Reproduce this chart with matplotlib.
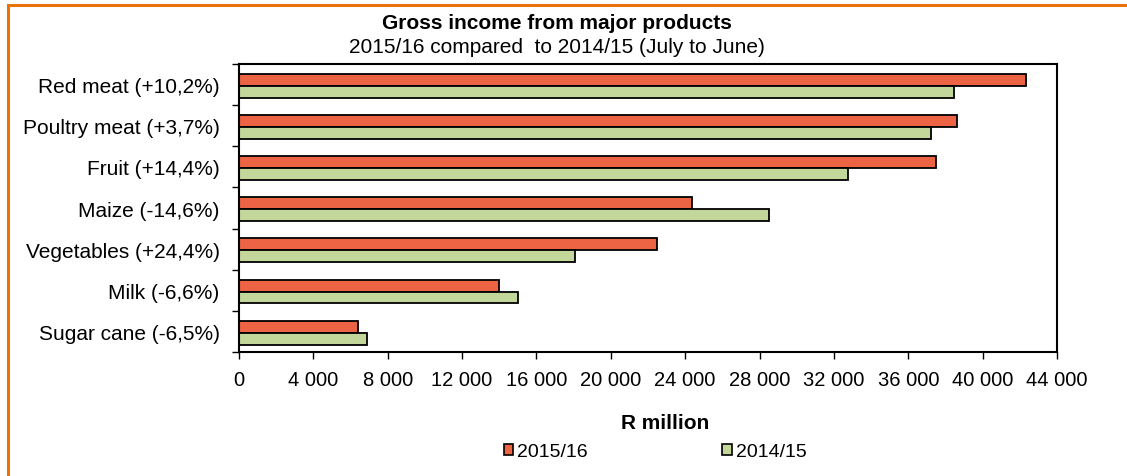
import matplotlib

matplotlib.use("Agg")
import matplotlib.pyplot as plt
import numpy as np
from matplotlib.lines import Line2D
from matplotlib.patches import Patch
from matplotlib.ticker import FixedLocator, FuncFormatter, MultipleLocator

plt.rcParams["font.family"] = ["Liberation Sans", "DejaVu Sans"]

categories = [
    "Red meat (+10,2%)",
    "Poultry meat (+3,7%)",
    "Fruit (+14,4%)",
    "Maize (-14,6%)",
    "Vegetables (+24,4%)",
    "Milk (-6,6%)",
    "Sugar cane (-6,5%)",
]
income_2015_16 = [42350, 38630, 37470, 24370, 22490, 13990, 6420]
income_2014_15 = [38450, 37230, 32740, 28510, 18070, 14990, 6880]

RED = "#EC6443"
GREEN = "#C4D79B"
ORANGE = "#E8720C"

W, H = 1127, 477
fig = plt.figure(figsize=(W / 100, H / 100), dpi=100)
ax = fig.add_axes([239 / W, 1 - 353 / H, 818 / W, 288 / H])

y = np.arange(len(categories))
h = 0.29
ax.barh(y - h / 2 + 0.03, income_2015_16, height=h, color=RED, edgecolor="black", linewidth=1.3)
ax.barh(y + h / 2 + 0.03, income_2014_15, height=h, color=GREEN, edgecolor="black", linewidth=1.3)

ax.set_xlim(0, 44000)
ax.set_ylim(len(categories) - 0.5, -0.5)
ax.xaxis.set_major_locator(MultipleLocator(4000))
ax.xaxis.set_major_formatter(FuncFormatter(lambda v, _: f"{int(v):,}".replace(",", " ")))
ax.set_yticks(y)
ax.set_yticklabels(categories, fontsize=15)
ax.yaxis.set_minor_locator(FixedLocator(np.arange(-0.5, len(categories), 1)))
ax.tick_params(axis="y", which="major", length=0, pad=14)
ax.tick_params(axis="y", which="minor", length=5, width=1, direction="out")
ax.tick_params(axis="x", length=5, width=1, direction="out", labelsize=14.5, pad=8)
for s in ax.spines.values():
    s.set_linewidth(1.5)

fig.text(665 / W, 1 - 429 / H, "R million", ha="center", va="baseline",
         fontsize=15, fontweight="bold")

fig.text(557 / W, 1 - 29 / H, "Gross income from major products", ha="center", va="baseline",
         fontsize=15, fontweight="bold")
fig.text(557 / W, 1 - 53 / H, "2015/16 compared  to 2014/15 (July to June)", ha="center",
         va="baseline", fontsize=15)

handles = [Patch(facecolor=RED, edgecolor="black", linewidth=1.2),
           Patch(facecolor=GREEN, edgecolor="black", linewidth=1.2)]
fig.legend(handles, ["2015/16", "2014/15"], loc="center", bbox_to_anchor=(655 / W, 1 - 453 / H),
           ncol=2, frameon=False, fontsize=14, handlelength=0.5, handleheight=0.5,
           handletextpad=0.2, columnspacing=6.9, borderpad=0)

# orange frame (only top and left edges fall inside the picture)
fig.add_artist(Line2D([7.5 / W, 1], [1 - 5.5 / H, 1 - 5.5 / H], color=ORANGE, linewidth=2.2,
                      transform=fig.transFigure))
fig.add_artist(Line2D([7.5 / W, 7.5 / W], [0, 1 - 5.5 / H], color=ORANGE, linewidth=2.2,
                      transform=fig.transFigure))

fig.savefig("out.png", dpi=100)
